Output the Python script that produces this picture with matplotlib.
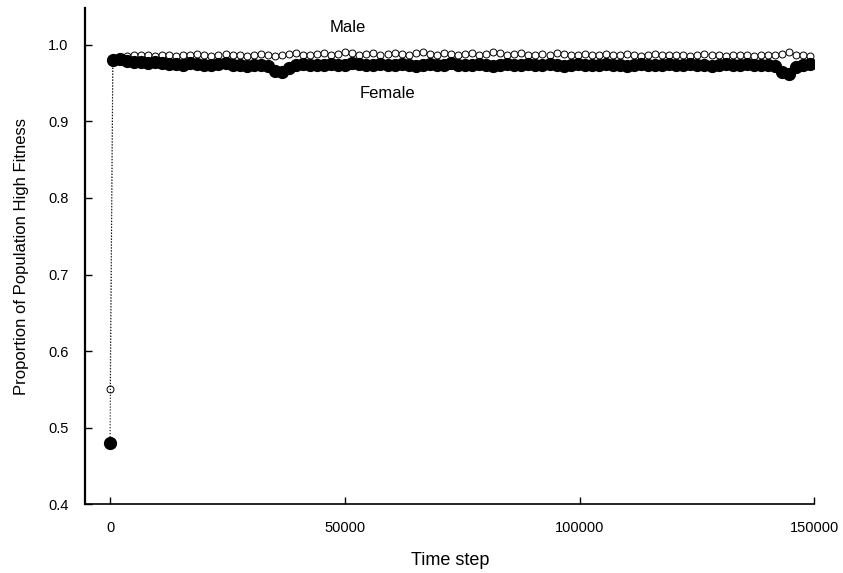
import matplotlib
matplotlib.use("Agg")
from matplotlib import pyplot as plt

plt.rcParams['font.family'] = ['Liberation Sans', 'DejaVu Sans']

# time steps: start, then sampled every 1500
steps = [0] + list(range(600, 150000, 1500))

female = [0.48,
          0.980, 0.981, 0.979, 0.978, 0.977, 0.976, 0.977, 0.976, 0.975, 0.975,
          0.974, 0.976, 0.975, 0.974, 0.973, 0.975, 0.976, 0.974, 0.973, 0.972,
          0.974, 0.973, 0.972, 0.966, 0.965, 0.970, 0.973, 0.975, 0.974, 0.973,
          0.974, 0.975, 0.973, 0.974, 0.976, 0.975, 0.973, 0.974, 0.975, 0.974,
          0.973, 0.975, 0.974, 0.972, 0.974, 0.975, 0.973, 0.974, 0.976, 0.974,
          0.973, 0.974, 0.975, 0.973, 0.972, 0.974, 0.975, 0.974, 0.973, 0.975,
          0.974, 0.973, 0.975, 0.974, 0.972, 0.973, 0.975, 0.974, 0.973, 0.974,
          0.975, 0.973, 0.974, 0.972, 0.973, 0.975, 0.974, 0.973, 0.974, 0.975,
          0.974, 0.973, 0.975, 0.974, 0.973, 0.972, 0.974, 0.975, 0.973, 0.974,
          0.975, 0.974, 0.973, 0.974, 0.972, 0.964, 0.962, 0.971, 0.974, 0.975]

male = [0.55,
        0.982, 0.984, 0.985, 0.986, 0.987, 0.986, 0.985, 0.987, 0.986, 0.985,
        0.986, 0.987, 0.988, 0.986, 0.985, 0.987, 0.988, 0.986, 0.987, 0.985,
        0.986, 0.988, 0.987, 0.985, 0.986, 0.988, 0.989, 0.987, 0.986, 0.988,
        0.989, 0.987, 0.988, 0.990, 0.989, 0.987, 0.988, 0.989, 0.987, 0.988,
        0.989, 0.988, 0.987, 0.989, 0.990, 0.988, 0.987, 0.989, 0.988, 0.987,
        0.988, 0.989, 0.987, 0.988, 0.990, 0.989, 0.987, 0.988, 0.989, 0.987,
        0.986, 0.988, 0.987, 0.989, 0.988, 0.986, 0.987, 0.988, 0.986, 0.987,
        0.988, 0.986, 0.987, 0.988, 0.986, 0.985, 0.987, 0.988, 0.986, 0.987,
        0.986, 0.987, 0.985, 0.986, 0.988, 0.987, 0.986, 0.985, 0.987, 0.986,
        0.987, 0.985, 0.986, 0.987, 0.986, 0.988, 0.990, 0.987, 0.986, 0.985]

xticks = [0, 50000, 100000, 150000]
yticks = [0.4, 0.5, 0.6, 0.7, 0.8, 0.9, 1.0]

fig = plt.figure(figsize=(8.43, 5.73), dpi=100)
ax = fig.add_axes([0.101, 0.12, 0.865, 0.866])

ax.plot(steps, male, ls=":", lw=0.8, c="#777777", marker="o", ms=5,
        mfc="white", mec="black", mew=0.7)
ax.plot(steps, female, ls=":", lw=0.8, c="black", marker="o", ms=8.5,
        mfc="black", mec="black")

ax.text(50600, 1.022, "Male", fontsize=12, ha="center", va="center")
ax.text(59000, 0.937, "Female", fontsize=12, ha="center", va="center")

ax.set_xlim(-5300, 150000)
ax.set_ylim(0.4, 1.048)
ax.set_xticks(xticks)
ax.set_xticklabels([str(t) for t in xticks])
ax.set_yticks(yticks)
ax.set_yticklabels(["%.1f" % t for t in yticks])
ax.tick_params(direction="in", length=5, width=1, labelsize=10.5)
ax.tick_params(axis="y", pad=12)
ax.tick_params(axis="x", pad=12)

ax.spines["top"].set_visible(False)
ax.spines["right"].set_visible(False)
ax.spines["left"].set_linewidth(1.6)
ax.spines["bottom"].set_linewidth(1.2)

ax.set_xlabel("Time step", fontsize=13, labelpad=12)
ax.set_ylabel("Proportion of Population High Fitness", fontsize=12, labelpad=14)

fig.savefig("out.png", dpi=100)
